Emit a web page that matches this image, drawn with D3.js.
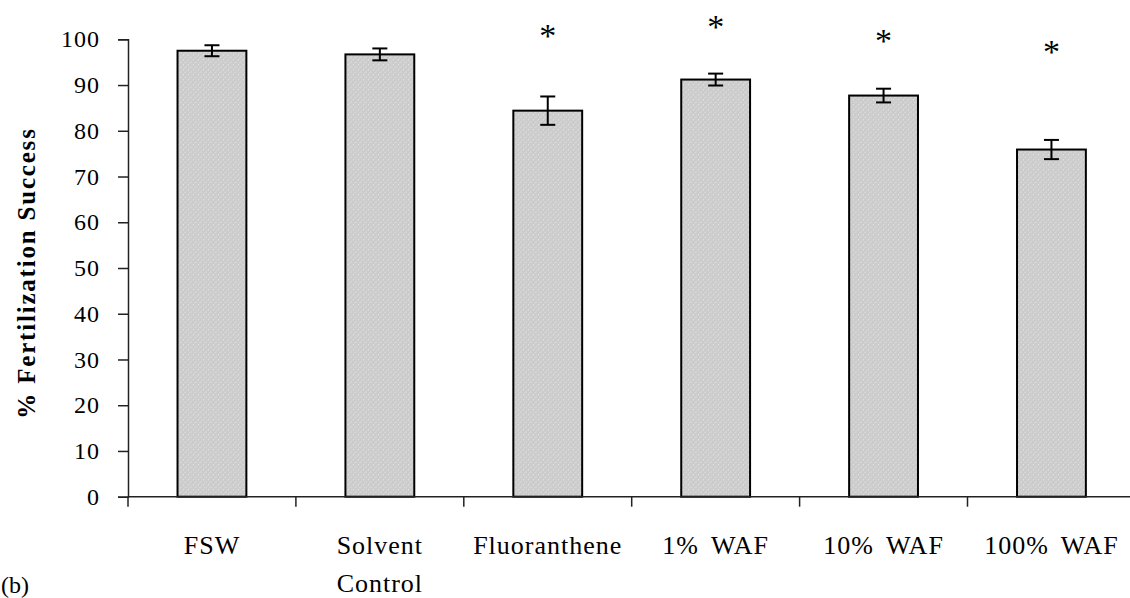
<!DOCTYPE html>
<html>
<head>
<meta charset="utf-8">
<script src="https://cdn.jsdelivr.net/npm/d3@7"></script>
<style>
  body { margin: 0; background: #fff; }
  svg text { font-family: "Liberation Serif", "DejaVu Serif", "Times New Roman", Times, serif; fill: #000; }
</style>
</head>
<body>
<div id="chart"></div>
<script>
// data
var groups = ["FSW", "Solvent Control", "Fluoranthene", "1% WAF", "10% WAF", "100% WAF"];
var means  = [97.5, 96.7, 84.4, 91.2, 87.7, 75.9];
var errs   = [1.2, 1.3, 3.1, 1.3, 1.5, 2.1];
// asterisk (significance) marks and their height in axis units
var starGroups = ["Fluoranthene", "1% WAF", "10% WAF", "100% WAF"];
var starLevel  = [102.3, 104.4, 101.4, 99.0];
var yTicks = [0, 10, 20, 30, 40, 50, 60, 70, 80, 90, 100];

var serif = "'Liberation Serif', 'DejaVu Serif', 'Times New Roman', Times, serif";

var margin = {top: 39.3, right: 0, bottom: 101.3, left: 128},
    width = 1130 - margin.left - margin.right,
    height = 598 - margin.top - margin.bottom;

var root = d3.select("#chart")
             .append("svg")
             .attr("width", 1130)
             .attr("height", 598)
             .style("font-family", serif);

var svg = root.append("g")
              .attr("transform", `translate(${margin.left},${margin.top})`);

// bar fill pattern: light grey with a fine lattice of lighter dots
var defs = svg.append("defs");
var pat = defs.append("pattern")
              .attr("id", "dots")
              .attr("patternUnits", "userSpaceOnUse")
              .attr("width", 5)
              .attr("height", 5);
pat.append("rect").attr("width", 5).attr("height", 5).attr("fill", "#cbcbcb");
pat.append("rect").attr("x", 0).attr("y", 0).attr("width", 1).attr("height", 1).attr("fill", "#ececec");
pat.append("rect").attr("x", 2.5).attr("y", 2.5).attr("width", 1).attr("height", 1).attr("fill", "#ececec");
pat.append("rect").attr("x", 1).attr("y", 3).attr("width", 1).attr("height", 1).attr("fill", "#dadada");
pat.append("rect").attr("x", 3.5).attr("y", 0.5).attr("width", 1).attr("height", 1).attr("fill", "#dadada");

var data = groups.map((g, i) => ({name: g, value: means[i], err: errs[i]}));

// six slots of ~168px, the last one runs past the window edge
var slot = 167.9;
var x = d3.scaleBand()
          .domain(groups)
          .range([0, slot * groups.length])
          .paddingInner(0.59)
          .paddingOuter(0.295);

var y = d3.scaleLinear()
          .domain([0, 100])
          .range([height, 0]);

// bars
svg.selectAll(".bar")
   .data(data)
   .enter().append("rect")
   .attr("class", "bar")
   .attr("x", d => x(d.name))
   .attr("y", d => y(d.value))
   .attr("width", x.bandwidth())
   .attr("height", d => height - y(d.value))
   .attr("fill", "url(#dots)")
   .attr("stroke", "#000")
   .attr("stroke-width", 2);

// error bars
var eb = svg.selectAll(".err")
            .data(data)
            .enter().append("g")
            .attr("class", "err")
            .attr("transform", d => `translate(${x(d.name) + x.bandwidth() / 2},0)`);
eb.append("line")
  .attr("y1", d => y(d.value + d.err))
  .attr("y2", d => y(d.value - d.err))
  .attr("stroke", "#000").attr("stroke-width", 2);
eb.append("line")
  .attr("x1", -7.5).attr("x2", 7.5)
  .attr("y1", d => y(d.value + d.err))
  .attr("y2", d => y(d.value + d.err))
  .attr("stroke", "#000").attr("stroke-width", 2);
eb.append("line")
  .attr("x1", -7.5).attr("x2", 7.5)
  .attr("y1", d => y(d.value - d.err))
  .attr("y2", d => y(d.value - d.err))
  .attr("stroke", "#000").attr("stroke-width", 2);

// asterisks
svg.selectAll(".star")
   .data(starGroups)
   .enter().append("text")
   .attr("class", "star")
   .attr("x", d => x(d) + x.bandwidth() / 2)
   .attr("y", (d, i) => y(starLevel[i]))
   .attr("dy", "0.55em")
   .attr("text-anchor", "middle")
   .style("font-size", "34px")
   .text("*");

// y axis
var yAxis = d3.axisLeft(y)
              .tickValues(yTicks)
              .tickSize(10)
              .tickPadding(18);

var gy = svg.append("g")
            .attr("class", "y axis")
            .call(yAxis)
            .attr("font-family", null);
gy.select(".domain").attr("stroke", "#222").attr("stroke-width", 1.5);
gy.selectAll(".tick line").attr("stroke", "#222").attr("stroke-width", 1.5);
gy.selectAll(".tick text")
  .style("font-family", serif)
  .style("font-size", "24px")
  .style("letter-spacing", "1px")
  .attr("fill", "#000");

// y title
svg.append("text")
   .attr("transform", `translate(${26 - margin.left},${273 - margin.top}) rotate(-90)`)
   .attr("text-anchor", "middle")
   .attr("dy", "0.35em")
   .style("font-size", "25px")
   .style("font-weight", "bold")
   .style("letter-spacing", "1.8px")
   .text("% Fertilization Success");

// x axis: baseline to the right edge, ticks at slot boundaries
var gx = svg.append("g")
            .attr("class", "x axis")
            .attr("transform", `translate(0,${height})`);
gx.append("line")
  .attr("x1", 0).attr("x2", width)
  .attr("stroke", "#222").attr("stroke-width", 1.5);
gx.selectAll(".xtick")
  .data(groups)
  .enter().append("line")
  .attr("class", "xtick")
  .attr("x1", d => x(d) - (x.step() - x.bandwidth()) / 2)
  .attr("x2", d => x(d) - (x.step() - x.bandwidth()) / 2)
  .attr("y1", 0).attr("y2", 10)
  .attr("stroke", "#222").attr("stroke-width", 1.5);

var lbl = gx.selectAll(".xlabel")
            .data(groups)
            .enter().append("text")
            .attr("class", "xlabel")
            .attr("text-anchor", "middle")
            .attr("transform", d => `translate(${x(d) + x.bandwidth() / 2},${57})`)
            .style("font-size", "26px")
            .style("letter-spacing", "1px")
            .style("word-spacing", "5px");
lbl.each(function(d) {
  var words = d === "Solvent Control" ? ["Solvent", "Control"] : [d];
  d3.select(this).selectAll("tspan")
    .data(words)
    .enter().append("tspan")
    .attr("x", 0)
    .attr("dy", (w, i) => i === 0 ? 0 : 38)
    .text(w => w);
});

// panel letter
root.append("text")
  .attr("x", 1)
  .attr("y", 593)
  .style("font-size", "24px")
  .text("(b)");
</script>
</body>
</html>
